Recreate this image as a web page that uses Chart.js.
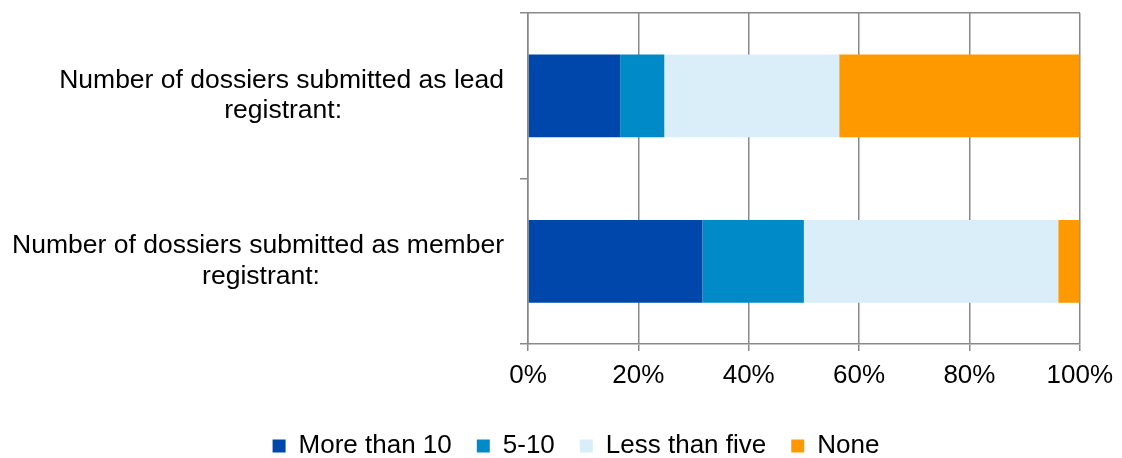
<!DOCTYPE html>
<html>
<head>
<meta charset="utf-8">
<script src="https://cdn.jsdelivr.net/npm/chart.js@4"></script>
<style>
  html, body { margin: 0; padding: 0; background: #fff; }
  canvas { display: block; }
</style>
</head>
<body>
<canvas id="dossiers-canvas" width="1122" height="458"></canvas>
<script>
// categories: one line of text per array entry
const categories = [
    ['Number of dossiers submitted as lead', 'registrant:'],
    ['Number of dossiers submitted as member', 'registrant:']
];
const seriesNames = ['More than 10', '5-10', 'Less than five', 'None'];
const moreThanTen = [16.7, 31.6];
const fiveToTen = [8.0, 18.4];
const lessThanFive = [31.7, 46.1];
const none = [43.6, 3.9];
const xTicks = [0, 20, 40, 60, 80, 100];

const seriesColors = ['#0047ab', '#008bc8', '#d9eef9', '#ff9900'];
const gridGrey = '#8a8a8a';
const fontFamily = '"Liberation Sans", Arial, sans-serif';
const font = { family: fontFamily, size: 26 };
const labelFont = { family: fontFamily, size: 26.5, lineHeight: 1.15 };

// the y labels are right aligned, but each line is centred under the first one,
// so pad the shorter lines with trailing spaces
const measure = document.createElement('canvas').getContext('2d');
measure.font = labelFont.size + 'px ' + fontFamily;
function centredLines(lines) {
    const widest = Math.max(...lines.map(l => measure.measureText(l).width));
    const space = measure.measureText('\u00a0').width;
    return lines.map(l => {
        const pad = Math.round((widest - measure.measureText(l).width) / 2 / space);
        return l + '\u00a0'.repeat(pad);
    });
}

const allSeries = [moreThanTen, fiveToTen, lessThanFive, none];

const canvasContext = document.getElementById('dossiers-canvas').getContext('2d');

new Chart(canvasContext, {
    type: 'bar',
    data: {
        labels: categories,
        datasets: allSeries.map((values, i) => ({
            label: seriesNames[i],
            data: values,
            backgroundColor: seriesColors[i],
            borderWidth: 0
        }))
    },
    options: {
        indexAxis: 'y',
        responsive: false,
        animation: false,
        devicePixelRatio: 1,
        // negative right padding + empty right axis: keeps the plot where it is
        // while moving the centre of the legend to the right
        layout: {
            padding: { left: 0, right: -30, top: 13, bottom: -11 }
        },
        datasets: {
            bar: { categoryPercentage: 1, barPercentage: 0.5 }
        },
        scales: {
            x: {
                stacked: true,
                min: 0,
                max: 100,
                afterBuildTicks: s => { s.ticks = xTicks.map(v => ({ value: v })); },
                afterFit: s => { s.height = 64; },
                grid: { color: gridGrey, lineWidth: 1.5, tickLength: 7 },
                border: { color: gridGrey, width: 1.5 },
                ticks: { font, color: '#000', padding: 9, callback: v => v + '%' }
            },
            xTop: {
                position: 'top',
                min: 0,
                max: 100,
                afterFit: s => { s.height = 0; },
                grid: { display: false, drawTicks: false },
                border: { display: true, color: gridGrey, width: 1.5 },
                ticks: { display: false }
            },
            y: {
                stacked: true,
                afterFit: s => {
                    s.width = 528;
                    s.paddingTop = 0;
                    s.paddingBottom = 0;
                },
                grid: { offset: true, drawOnChartArea: false, color: gridGrey, lineWidth: 1.5, tickLength: 8 },
                border: { color: gridGrey, width: 1.5 },
                ticks: {
                    font: labelFont,
                    color: '#000',
                    padding: 16,
                    callback: (value, index) => centredLines(categories[index])
                }
            },
            yRight: {
                type: 'linear',
                position: 'right',
                afterFit: s => { s.width = 70; },
                grid: { display: false, drawTicks: false },
                border: { display: false },
                ticks: { display: false }
            }
        },
        plugins: {
            legend: {
                position: 'bottom',
                labels: { font, color: '#000', boxWidth: 13, boxHeight: 13, padding: 25 }
            },
            tooltip: { enabled: false }
        }
    }
});
</script>
</body>
</html>
